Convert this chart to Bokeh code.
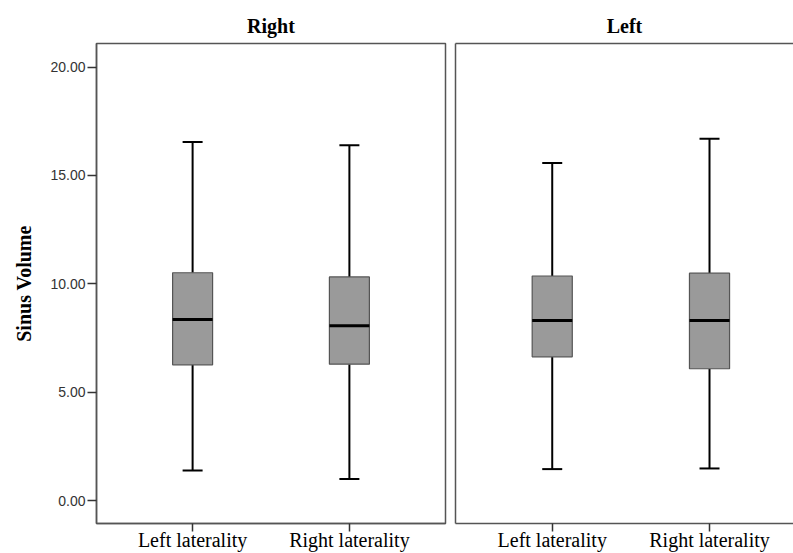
from bokeh.plotting import figure
from bokeh.layouts import row
from bokeh.models import Range1d, FixedTicker, NumeralTickFormatter, LinearAxis, ColumnDataSource
from bokeh.embed import file_html
from bokeh.resources import INLINE

# ---- data ----
categories = ["Left laterality", "Right laterality"]
panel_titles = ["Right", "Left"]
y_ticks = [0, 5, 10, 15, 20]

right_lower = [1.38, 0.99]
right_q1 = [6.26, 6.29]
right_median = [8.35, 8.06]
right_q3 = [10.51, 10.32]
right_upper = [16.55, 16.40]

left_lower = [1.45, 1.48]
left_q1 = [6.63, 6.08]
left_median = [8.31, 8.31]
left_q3 = [10.36, 10.49]
left_upper = [15.57, 16.69]

# ---- style ----
FRAME = "#555555"
BOX_FILL = "#9a9a9a"
BOX_W = 0.255
CAP_PX = 20
SERIF = "Liberation Serif"
SANS = "Liberation Sans"
H = 553
TOP = 43
BOTTOM = 30

y_range = Range1d(-1.06, 21.09)


def style_xaxis(ax):
    ax.ticker = FixedTicker(ticks=[i + 1 for i in range(len(categories))])
    ax.major_label_overrides = {i + 1: c for i, c in enumerate(categories)}
    ax.major_label_text_font = SERIF
    ax.major_label_text_font_size = "20px"
    ax.major_label_text_color = "black"
    ax.major_label_standoff = -3
    ax.major_tick_out = 8
    ax.major_tick_in = 0
    ax.major_tick_line_color = "#333333"
    ax.major_tick_line_width = 1.5
    ax.minor_tick_line_color = None
    ax.axis_line_color = FRAME
    ax.axis_line_width = 1.5


def add_boxes(p, lower, q1, med, q3, upper):
    xs = [i + 1 for i in range(len(categories))]
    src = ColumnDataSource(dict(
        x=xs, x0=[x - BOX_W / 2 for x in xs], x1=[x + BOX_W / 2 for x in xs],
        lower=lower, q1=q1, med=med, q3=q3, upper=upper))
    p.segment(x0="x", y0="q3", x1="x", y1="upper", source=src, line_color="black", line_width=2)
    p.segment(x0="x", y0="lower", x1="x", y1="q1", source=src, line_color="black", line_width=2)
    p.dash(x="x", y="upper", size=CAP_PX, source=src, line_color="black", line_width=2)
    p.dash(x="x", y="lower", size=CAP_PX, source=src, line_color="black", line_width=2)
    p.vbar(x="x", width=BOX_W, bottom="q1", top="q3", source=src,
           fill_color=BOX_FILL, line_color=FRAME, line_width=1.2)
    p.segment(x0="x0", y0="med", x1="x1", y1="med", source=src, line_color="black", line_width=3)


def style_common(p, title):
    p.title.text = title
    p.title.align = "center"
    p.title.text_font = SERIF
    p.title.text_font_size = "20px"
    p.title.text_font_style = "bold"
    p.title.text_color = "black"
    p.title.standoff = 13
    p.xgrid.visible = False
    p.ygrid.visible = False
    p.background_fill_color = "white"
    p.border_fill_color = "white"


# ---- left panel ("Right") ----
p1 = figure(width=450, height=H, x_range=Range1d(0.387, 2.613), y_range=y_range,
            output_backend="svg", toolbar_location=None,
            min_border_left=96, min_border_right=5, min_border_top=TOP, min_border_bottom=BOTTOM)
style_common(p1, panel_titles[0])
p1.outline_line_color = FRAME
p1.outline_line_width = 1.5
p1.outline_line_alpha = 1
style_xaxis(p1.xaxis[0])
ya = p1.yaxis[0]
ya.ticker = FixedTicker(ticks=y_ticks)
ya.formatter = NumeralTickFormatter(format="0.00")
ya.major_label_text_font = SANS
ya.major_label_text_font_size = "14px"
ya.major_label_text_color = "#333333"
ya.major_label_standoff = 2
ya.major_tick_out = 9
ya.major_tick_in = 0
ya.major_tick_line_color = "#333333"
ya.major_tick_line_width = 1.5
ya.minor_tick_line_color = None
ya.axis_line_color = FRAME
ya.axis_line_width = 1.5
ya.axis_label = "Sinus Volume"
ya.axis_label_text_font = SERIF
ya.axis_label_text_font_size = "20px"
ya.axis_label_text_font_style = "bold"
ya.axis_label_text_color = "black"
ya.axis_label_standoff = 12
add_boxes(p1, right_lower, right_q1, right_median, right_q3, right_upper)

# ---- right panel ("Left") ----
p2 = figure(width=343, height=H, x_range=Range1d(0.385, 2.534), y_range=y_range,
            output_backend="svg", toolbar_location=None,
            min_border_left=5, min_border_right=0, min_border_top=TOP, min_border_bottom=BOTTOM)
style_common(p2, panel_titles[1])
p2.outline_line_color = None
style_xaxis(p2.xaxis[0])
ya2 = p2.yaxis[0]
ya2.ticker = FixedTicker(ticks=[])
ya2.major_label_text_font_size = "0px"
ya2.major_label_standoff = 0
ya2.major_tick_out = 0
ya2.major_tick_in = 0
ya2.minor_tick_line_color = None
ya2.axis_line_color = FRAME
ya2.axis_line_width = 1.5
top_axis = LinearAxis(ticker=FixedTicker(ticks=[]), major_label_text_font_size="0px",
                      major_label_standoff=0, major_tick_out=0, major_tick_in=0,
                      minor_tick_line_color=None, axis_line_color=FRAME, axis_line_width=1.5)
p2.add_layout(top_axis, "above")
add_boxes(p2, left_lower, left_q1, left_median, left_q3, left_upper)

layout = row(p1, p2, spacing=0)
open("out.html", "w").write(file_html(layout, INLINE))
